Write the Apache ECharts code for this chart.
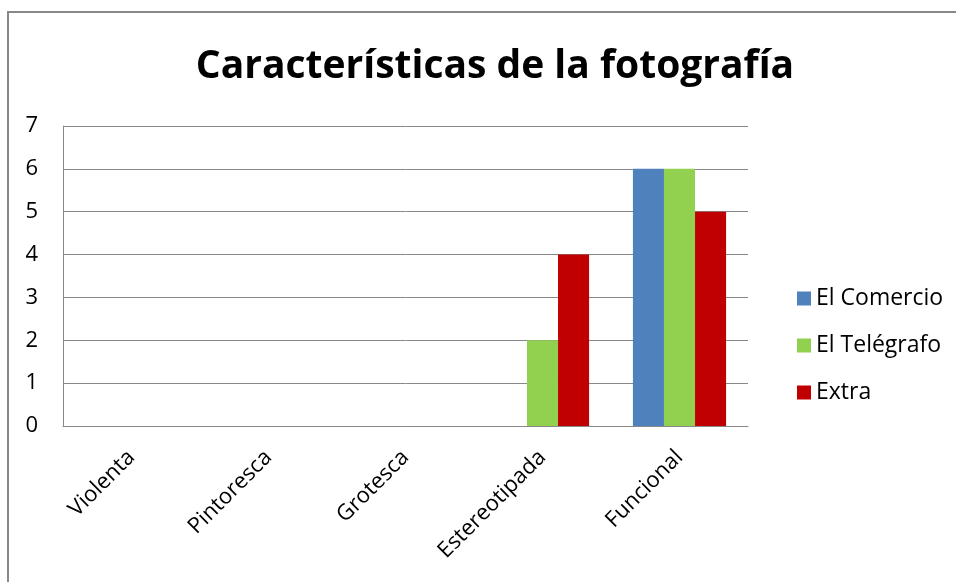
<!DOCTYPE html>
<html>
<head>
<meta charset="utf-8">
<script src="https://cdn.jsdelivr.net/npm/echarts@6/dist/echarts.min.js"></script>
<style>
  html, body { margin: 0; padding: 0; background: #fff; }
  #chart { width: 956px; height: 582px; }
</style>
</head>
<body>
<div id="chart"></div>
<script>
var categories = ['Violenta', 'Pintoresca', 'Grotesca', 'Estereotipada', 'Funcional'];
var seriesNames = ['El Comercio', 'El Telégrafo', 'Extra'];
var comercio = [0, 0, 0, 0, 6];
var telegrafo = [0, 0, 0, 2, 6];
var extra = [0, 0, 0, 4, 5];
var colors = ['#4F81BD', '#92D050', '#C00000'];

var font = 'Open Sans, Liberation Sans, sans-serif';
var chart = echarts.init(document.getElementById('chart'));

function bar(name, data, color) {
    return {
        name: name,
        type: 'bar',
        data: data,
        barGap: '0%',
        barCategoryGap: '32%',
        itemStyle: { color: color },
        emphasis: { disabled: true }
    };
}

chart.setOption({
    animation: false,
    color: colors,
    title: {
        text: 'Características de la fotografía',
        left: 490,
        textAlign: 'center',
        top: 42,
        textStyle: {
            fontFamily: font,
            fontSize: 39,
            fontWeight: 'bold',
            color: '#000'
        }
    },
    graphic: [{
        type: 'rect',
        shape: { x: 8, y: 12, width: 960, height: 600 },
        style: { fill: 'none', stroke: '#888', lineWidth: 2 },
        silent: true
    }],
    legend: {
        orient: 'vertical',
        left: 792,
        top: 282,
        itemWidth: 14,
        itemHeight: 14,
        itemGap: 24,
        icon: 'rect',
        textStyle: { fontFamily: font, fontSize: 23, color: '#000' },
        data: seriesNames
    },
    grid: { left: 63, top: 126, right: 208, bottom: 156 },
    xAxis: {
        type: 'category',
        data: categories,
        axisLine: { show: true, lineStyle: { color: '#888' } },
        axisTick: { show: false },
        axisLabel: {
            rotate: 45,
            margin: 28,
            fontFamily: font,
            fontSize: 22,
            color: '#000'
        }
    },
    yAxis: {
        type: 'value',
        min: 0,
        max: 7,
        interval: 1,
        axisLine: { show: true, lineStyle: { color: '#888' } },
        axisTick: { show: false },
        splitLine: { lineStyle: { color: '#888' } },
        axisLabel: {
            margin: 25,
            fontFamily: font,
            fontSize: 22,
            color: '#000'
        }
    },
    series: [
        bar(seriesNames[0], comercio, colors[0]),
        bar(seriesNames[1], telegrafo, colors[1]),
        bar(seriesNames[2], extra, colors[2])
    ]
});
</script>
</body>
</html>
